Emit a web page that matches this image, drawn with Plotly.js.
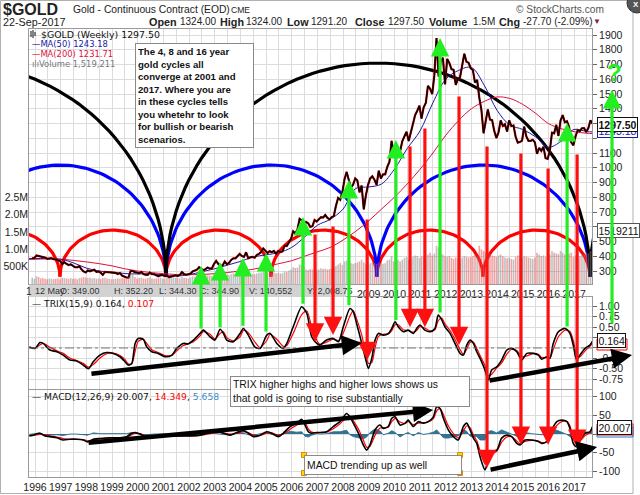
<!DOCTYPE html>
<html><head><meta charset="utf-8">
<script src="https://cdn.plot.ly/plotly-3.0.1.min.js"></script>
<style>body{margin:0;padding:0;background:#fff}#chart{width:640px;height:495px}</style>
</head><body><div id="chart"></div>
<script>
// ---------------- DATA ----------------
const startYear = 1995, startMonth = 11; // first monthly bar: Nov 1995
const closes = [
387,388,
405,402,396,393,391,383,386,387,380,379,372,369,
347,360,349,341,345,335,326,325,333,312,297,290,
304,298,301,309,294,297,289,274,294,293,294,288,
288,287,280,286,269,262,256,255,300,300,292,290,
285,294,279,275,274,290,278,278,274,265,271,273,
266,267,258,264,268,271,266,274,293,279,275,279,
282,297,302,309,326,318,305,313,324,317,318,348,
368,348,336,337,364,346,355,375,386,386,398,416,
402,396,427,387,394,396,391,409,416,428,453,438,
422,435,428,436,417,437,429,433,473,470,496,518,
569,556,582,654,643,614,633,624,599,604,646,636,
651,665,663,680,660,650,666,673,743,795,783,834,
923,972,917,865,885,928,914,833,880,718,814,884,
928,942,919,884,980,927,955,955,1007,1040,1182,1096,
1081,1117,1113,1180,1213,1244,1181,1247,1308,1357,1386,1421,
1333,1410,1439,1556,1536,1500,1628,1880,1620,1725,1746,1566,
1738,1711,1669,1664,1562,1604,1614,1687,1773,1719,1712,1675,
1663,1578,1596,1476,1393,1234,1313,1396,1327,1323,1250,1202,
1240,1321,1284,1296,1246,1322,1282,1287,1210,1171,1175,1184,
1279,1213,1183,1183,1190,1172,1095,1135,1115,1142,1065,1060,
1118,1238,1234,1291,1216,1321,1357,1309,1316,1277,1173,1152,
1212,1255,1249,1268,1269,1242,1269,1322,1297.5];
const volumesK = [
180,150,
220,200,160,170,150,140,160,150,140,150,160,130,
180,170,160,150,170,150,160,140,170,180,200,190,
170,180,160,170,150,160,140,170,180,160,150,140,
140,150,160,150,170,160,180,190,300,280,200,150,
170,180,160,150,170,190,160,150,160,170,180,150,
160,170,180,170,190,180,170,160,200,180,170,160,
190,220,210,230,260,240,220,230,250,240,230,270,
300,280,260,250,290,270,260,280,300,290,300,320,
330,320,340,310,300,290,280,300,320,330,360,340,
330,340,320,330,310,320,300,310,360,350,380,420,
480,460,470,560,540,480,420,400,430,420,450,400,
420,450,430,440,420,430,440,470,520,560,600,550,
650,680,640,600,580,600,620,650,700,620,580,550,
600,620,600,580,620,600,580,600,680,700,800,650,
680,700,650,700,750,780,700,720,780,820,800,750,
800,780,760,850,900,820,880,1100,1050,900,850,800,
780,800,750,720,760,740,700,760,800,780,760,780,
800,850,800,1100,1000,950,900,880,860,820,800,780,
820,850,800,760,740,760,720,700,780,820,800,760,
800,780,760,740,720,760,900,850,800,820,780,760,
850,950,900,880,860,950,900,850,800,880,900,780,
820,850,800,880,850,900,880,950,1100];
const maYears = [1995.77,1996.5,1997,1997.5,1998,1998.5,1999,1999.5,2000,2000.5,2001,2001.5,2002,2002.5,2003,2003.5,2004,2004.5,2005,2005.5,2006,2006.5,2007,2007.5,2008,2008.5,2009,2009.5,2010,2010.5,2011,2011.5,2012,2012.5,2013,2013.5,2014,2014.5,2015,2015.5,2016,2016.5,2017,2017.5,2017.72];
const ma50 = [385,385,380,355,320,300,293,283,280,282,273,266,275,295,315,340,365,395,410,425,460,530,610,650,720,860,870,890,990,1130,1250,1440,1600,1660,1680,1560,1390,1290,1260,1210,1140,1180,1260,1245,1243.18];
const ma200 = [378,382,380,372,362,350,335,315,300,290,282,276,275,276,282,290,300,312,330,350,370,400,430,460,510,570,640,720,800,890,990,1100,1220,1320,1400,1450,1480,1470,1430,1370,1300,1265,1245,1234,1231.71];
const trixYears = [1995.78,1996.00,1996.19,1996.32,1996.58,1996.85,1997.10,1997.36,1997.62,1997.88,
1998.08,1998.27,1998.53,1998.79,1999.05,1999.31,1999.51,1999.63,1999.77,1999.90,
2000.02,2000.22,2000.35,2000.55,2000.80,2001.06,2001.33,2001.52,2001.78,2001.97,
2002.17,2002.43,2002.56,2002.82,2003.01,2003.21,2003.34,2003.47,2003.73,2003.99,
2004.12,2004.31,2004.57,2004.77,2005.03,2005.16,2005.42,2005.67,2005.81,2006.06,
2006.39,2006.59,2006.78,2006.98,2007.10,2007.36,2007.62,2007.82,2008.01,2008.27,
2008.40,2008.53,2008.73,2008.86,2008.99,2009.12,2009.25,2009.38,2009.57,2009.77,
2009.90,2010.03,2010.15,2010.35,2010.54,2010.74,2010.87,2011.00,2011.19,2011.39,
2011.58,2011.71,2011.85,2011.97,2012.17,2012.36,2012.56,2012.69,2012.82,2012.95,
2013.08,2013.21,2013.34,2013.53,2013.66,2013.79,2013.99,2014.18,2014.38,2014.57,
2014.77,2014.96,2015.16,2015.41,2015.61,2015.74,2015.94,2016.06,2016.19,2016.39,
2016.65,2016.84,2016.97,2017.10,2017.23,2017.43,2017.62,2017.72];
const trixVals = [0.02,-0.01,0.13,0.11,-0.05,-0.09,-0.17,-0.29,-0.31,-0.41,
-0.50,-0.33,-0.17,-0.11,-0.13,-0.21,-0.33,-0.41,-0.37,0.11,
0.23,0.21,0.03,-0.09,-0.13,-0.21,-0.17,-0.01,0.11,0.10,
0.19,0.35,0.43,0.27,0.19,0.45,0.35,0.19,0.15,0.35,
0.47,0.31,0.02,-0.01,0.31,0.35,0.11,-0.01,0.11,0.51,
0.99,0.83,0.27,0.11,0.07,0.19,0.23,0.15,0.51,0.95,
0.87,0.59,0.11,-0.21,-0.49,-0.25,0.19,0.35,0.31,0.35,
0.47,0.63,0.51,0.39,0.43,0.35,0.47,0.55,0.43,0.39,
0.47,0.79,0.67,0.51,0.35,0.11,-0.13,-0.17,0.07,0.19,
0.11,-0.09,-0.25,-0.53,-0.77,-0.53,-0.45,-0.29,-0.05,-0.01,
-0.09,-0.29,-0.13,-0.13,-0.17,-0.27,-0.21,-0.25,0.11,0.39,
0.47,0.35,0.07,-0.29,-0.17,-0.01,0.07,0.164];
const trixSignal = [0.03,0.00,0.07,0.11,0.02,-0.07,-0.13,-0.24,-0.30,-0.37,
-0.46,-0.40,-0.24,-0.14,-0.12,-0.18,-0.28,-0.38,-0.38,-0.08,
0.16,0.21,0.11,-0.04,-0.11,-0.18,-0.18,-0.07,0.06,0.10,
0.15,0.29,0.39,0.33,0.22,0.35,0.39,0.25,0.17,0.27,
0.42,0.37,0.14,0.01,0.18,0.33,0.21,0.04,0.06,0.35,
0.80,0.89,0.50,0.18,0.09,0.14,0.21,0.18,0.36,0.77,
0.90,0.70,0.31,-0.07,-0.37,-0.35,0.01,0.28,0.33,0.34,
0.42,0.56,0.56,0.44,0.42,0.38,0.42,0.51,0.48,0.41,
0.44,0.66,0.72,0.58,0.42,0.21,-0.04,-0.15,-0.03,0.14,
0.14,-0.01,-0.18,-0.42,-0.67,-0.63,-0.48,-0.36,-0.15,-0.03,
-0.06,-0.21,-0.19,-0.13,-0.15,-0.23,-0.23,-0.24,-0.04,0.27,
0.43,0.40,0.18,-0.15,-0.21,-0.07,0.04,0.107];
const macdYears = [1995.78,1995.93,1996.19,1996.39,1996.58,1996.85,1997.10,1997.36,1997.62,1997.88,
1998.04,1998.27,1998.53,1998.92,1999.31,1999.57,1999.77,1999.90,2000.09,2000.29,
2000.61,2001.13,2001.65,2002.04,2002.43,2002.82,2003.21,2003.60,2003.86,2004.12,
2004.31,2004.51,2004.77,2005.03,2005.22,2005.48,2005.67,2005.94,2006.20,2006.39,
2006.52,2006.65,2006.78,2006.98,2007.10,
2007.36,2007.62,2007.88,2008.14,2008.27,2008.40,2008.60,2008.79,2008.92,2009.05,
2009.25,2009.44,2009.57,2009.76,2009.90,2010.03,2010.22,2010.42,2010.54,2010.74,
2010.93,2011.13,2011.32,2011.52,2011.65,2011.78,2011.91,2012.10,2012.30,2012.49,
2012.69,2012.82,2012.95,2013.08,2013.21,2013.34,2013.53,2013.66,2013.79,2013.99,
2014.18,2014.38,2014.57,2014.77,2014.90,2015.09,2015.35,2015.61,2015.74,2015.94,
2016.13,2016.33,2016.52,2016.72,2016.84,2016.97,2017.10,2017.23,2017.43,2017.62,2017.72];
const macdVals = [-5,-3,2,-5,-7,-10,-16,-14,-14,-16,
-21,-14,-12,-10,-10,-7,2,4,0,-7,
-5,-5,-5,-5,-3,4,5,-3,4,9,
2,-7,-3,6,2,-7,2,20,29,39,
24,6,2,4,4,
6,20,33,55,46,29,2,-29,-43,-29,
11,24,15,20,42,46,24,29,37,20,
33,29,33,46,73,68,42,11,-7,-16,
20,29,11,-11,-25,-61,-96,-69,-47,-43,
-11,-3,-7,-25,-29,-16,-16,-20,-25,-20,
11,33,37,33,15,-25,-34,-16,2,6,20.007];
const macdSignal = [-4,-4,-1,-2,-5,-8,-12,-14,-14,-15,
-18,-17,-13,-11,-10,-8,-2,2,1,-4,
-5,-5,-5,-5,-4,1,4,0,2,6,
4,-3,-4,2,3,-3,0,13,24,33,
30,14,5,3,4,
5,14,27,45,48,36,13,-16,-35,-33,
-3,16,17,18,33,42,32,28,33,25,
29,30,32,41,62,68,52,22,1,-11,
8,22,17,-3,-18,-45,-80,-76,-56,-46,
-22,-8,-7,-19,-26,-20,-17,-19,-23,-21,
1,23,33,34,22,-10,-28,-20,-4,3,14.349];
const macdHist = [-1,1,3,-3,-2,-2,-4,0,0,-1,
-3,3,1,1,0,1,4,2,-1,-3,
0,0,0,0,1,3,1,-3,2,3,
-2,-4,1,4,-1,-4,2,7,5,6,
-6,-8,-3,1,0,
1,6,6,10,-2,-7,-11,-13,-8,4,
14,8,-2,2,9,4,-8,1,4,-5,
4,-1,1,5,11,0,-10,-11,-8,-5,
12,7,-6,-8,-7,-16,-16,7,9,3,
11,5,0,-6,-3,4,1,-1,-2,1,
10,10,4,-1,-7,-15,-6,4,6,3,5.66];
const yearLabels = [1996,1997,1998,1999,2000,2001,2002,2003,2004,2005,2006,2007,2008,2009,2010,2011,2012,2013,2014,2015,2016,2017];
const priceTicks = [300,400,500,600,700,800,900,1000,1100,1200,1300,1400,1500,1600,1700,1800,1900];
const priceTickText = ['300','400','500','','700','800','900','1000','1100','','','1400','1500','1600','1700','1800','1900'];
const volTicks = [500000,1000000,1500000,2000000,2500000];
const volTickText = ['500K','1.0M','1.5M','2.0M','2.5M'];
const trixTicks = [-0.75,-0.5,-0.25,0,0.25,0.5,0.75,1.0];
const trixTickText = ['-0.75','-0.50','-0.25','','','0.50','0.75','1.00'];
const macdTicks = [-100,-50,0,50,100];
const macdTickText = ['-100','-50','','50','100'];
// cycle lows (decimal years) where the hand-drawn cycle arcs touch down
const cycle4 = [1992.84,1996.97,2001.10,2005.19,2009.32,2013.45,2017.62,2021.75];
const cycle8 = [1992.88,2001.10,2009.32,2017.62,2025.9];
const cycle16 = [1984.6,2001.10,2017.62,2034.1];
const arcBase = 262, arc4Top = 578, arc8Top = 1019, arc16Top = 1710;
// hand-drawn signal arrows: [year, price at head/tail, indicator value at tail/head]
const greenArrows = [[2002.47,334,0.43],[2003.21,361,0.46],[2004.10,388,0.50],[2005.00,422,0.36],[2006.44,666,1.03],[2008.23,917,0.99],[2010.06,1188,0.63],[2011.78,1880,0.82],[2016.73,1303,0.48]];
const redArrowsTrix = [[2006.91,558,0.15],[2007.61,612,0.31],[2008.94,659,-0.29],[2010.61,1154,0.50],[2011.19,1276,0.50],[2012.52,1493,0.07]];
const redArrowsMacd = [[2013.61,1154,-91],[2014.93,1107,-29],[2015.99,1005,-29],[2017.12,1100,-37]];

// ---------------- GEOMETRY (pixels of the 640x495 picture) ----------------
const W = 640, H = 495;
const XL = 29, XR = 592, X0 = 1995.766, X1 = 2017.70;
const P = {top: 29, bot: 284, r0: 212, r1: 1941};
const T = {top: 297, bot: 389, r0: -0.986, r1: 1.226};
const M = {top: 390, bot: 477, r0: -115, r1: 117.7};
const VOLMAX = 7.33e6;
const dom = p => [(H - p.bot) / H, (H - p.top) / H];
const pxX = yr => XL + (yr - X0) / (X1 - X0) * (XR - XL);
const pxY = (p, v) => p.bot - (v - p.r0) / (p.r1 - p.r0) * (p.bot - p.top);

// ---------------- TRACES ----------------
const mX = closes.map((_, i) => startYear + (startMonth - 0.3 + i) / 12);
const volColors = closes.map((c, i) => (i > 0 && c < closes[i - 1]) ? 'rgba(225,90,90,0.55)' : 'rgba(130,130,130,0.5)');
const traces = [];
traces.push({x: mX, y: volumesK.map(v => v * 1000), type: 'bar', xaxis: 'x', yaxis: 'y2', marker: {color: volColors, line: {width: 0}}, hoverinfo: 'skip'});
function arc(a, b, top, color) {
  const c = (a + b) / 2, r = (b - a) / 2, xs = [], ys = [];
  for (let k = 0; k <= 80; k++) { const t = Math.PI * k / 80; xs.push(c - r * Math.cos(t)); ys.push(arcBase + (top - arcBase) * Math.sin(t)); }
  return {x: xs, y: ys, type: 'scatter', mode: 'lines', xaxis: 'x', yaxis: 'y', line: {color: color, width: 3.2}, hoverinfo: 'skip'};
}
for (let i = 0; i < cycle4.length - 1; i++) traces.push(arc(cycle4[i], cycle4[i + 1], arc4Top, '#ff0000'));
for (let i = 0; i < cycle8.length - 1; i++) traces.push(arc(cycle8[i], cycle8[i + 1], arc8Top, '#0000ff'));
for (let i = 0; i < cycle16.length - 1; i++) traces.push(arc(cycle16[i], cycle16[i + 1], arc16Top, '#000000'));
traces.push({x: maYears, y: ma200, type: 'scatter', mode: 'lines', xaxis: 'x', yaxis: 'y', line: {color: '#e0103a', width: 1, shape: 'spline'}, hoverinfo: 'skip'});
traces.push({x: maYears, y: ma50, type: 'scatter', mode: 'lines', xaxis: 'x', yaxis: 'y', line: {color: '#1a1aa8', width: 1, shape: 'spline'}, hoverinfo: 'skip'});
traces.push({x: mX, y: closes, type: 'scatter', mode: 'lines', xaxis: 'x', yaxis: 'y', line: {color: '#d00000', width: 2.2}, hoverinfo: 'skip'});
traces.push({x: mX, y: closes, type: 'scatter', mode: 'lines', xaxis: 'x', yaxis: 'y', line: {color: '#000000', width: 1.4}, hoverinfo: 'skip'});
// TRIX
traces.push({x: trixYears, y: trixSignal, type: 'scatter', mode: 'lines', xaxis: 'x2', yaxis: 'y3', line: {color: '#ff0000', width: 1.2, shape: 'spline', smoothing: 0.7}, hoverinfo: 'skip'});
traces.push({x: trixYears, y: trixVals, type: 'scatter', mode: 'lines', xaxis: 'x2', yaxis: 'y3', line: {color: '#000000', width: 1.6, shape: 'spline', smoothing: 0.7}, hoverinfo: 'skip'});
// MACD
traces.push({x: macdYears, y: macdHist, type: 'scatter', mode: 'lines', fill: 'tozeroy', fillcolor: 'rgba(30,100,135,0.9)', xaxis: 'x3', yaxis: 'y4', line: {color: '#1e6487', width: 0.8}, hoverinfo: 'skip'});
traces.push({x: macdYears, y: macdSignal, type: 'scatter', mode: 'lines', xaxis: 'x3', yaxis: 'y4', line: {color: '#ff0000', width: 1.2, shape: 'spline', smoothing: 0.7}, hoverinfo: 'skip'});
traces.push({x: macdYears, y: macdVals, type: 'scatter', mode: 'lines', xaxis: 'x3', yaxis: 'y4', line: {color: '#000000', width: 1.6, shape: 'spline', smoothing: 0.7}, hoverinfo: 'skip'});

// ---------------- AXES ----------------
// gridlines every half year; year labels on the whole years
const gridVals = [], gridText = [], gridTextTop = [];
for (let y = 1996; y <= 2017.5; y += 0.5) {
  gridVals.push(y);
  const lab = (Number.isInteger(y) && yearLabels.includes(y)) ? String(y) : '';
  gridText.push(lab);
  gridTextTop.push(y >= 2009 ? lab : ''); // earlier labels sit under the hover strip
}
const AF = 'Liberation Sans, Arial, sans-serif';
const xBase = {range: [X0, X1], domain: [XL / W, XR / W], tickvals: gridVals, ticktext: gridText, showgrid: true, gridcolor: '#dcdcdc', gridwidth: 1, zeroline: false, showline: true, linecolor: '#9a9a9a', mirror: true, ticks: '', tickfont: {family: AF, size: 10.5, color: '#222'}, fixedrange: true};
const yBase = {side: 'right', showgrid: true, gridcolor: '#dcdcdc', zeroline: false, showline: true, linecolor: '#9a9a9a', mirror: true, ticks: 'outside', ticklen: 4, tickcolor: '#666', tickfont: {family: AF, size: 10.5, color: '#222'}, fixedrange: true};
const layout = {
  width: W, height: H, margin: {l: 0, r: 0, t: 0, b: 0}, paper_bgcolor: '#fff', plot_bgcolor: '#fff', showlegend: false, bargap: 0.25,
  xaxis: Object.assign({}, xBase, {anchor: 'y', showticklabels: true, ticktext: gridTextTop}),
  xaxis2: Object.assign({}, xBase, {anchor: 'y3', matches: 'x', showticklabels: false}),
  xaxis3: Object.assign({}, xBase, {anchor: 'y4', matches: 'x', showticklabels: true}),
  yaxis: Object.assign({}, yBase, {domain: dom(P), range: [P.r0, P.r1], tickvals: priceTicks, ticktext: priceTickText, anchor: 'x'}),
  yaxis2: {overlaying: 'y', side: 'left', range: [0, VOLMAX], tickvals: volTicks, ticktext: volTickText, showgrid: false, zeroline: false, showline: false, ticks: '', tickfont: {family: AF, size: 10.5, color: '#222'}, anchor: 'x', fixedrange: true},
  yaxis3: Object.assign({}, yBase, {domain: dom(T), range: [T.r0, T.r1], tickvals: trixTicks, ticktext: trixTickText, anchor: 'x2'}),
  yaxis4: Object.assign({}, yBase, {domain: dom(M), range: [M.r0, M.r1], tickvals: macdTicks, ticktext: macdTickText, anchor: 'x3'}),
  shapes: [], annotations: []
};
const S = layout.shapes, A = layout.annotations;
const fx = px => px / W, fy = py => 1 - py / H;
// TRIX zero line
S.push({type: 'line', xref: 'x2', yref: 'y3', x0: X0, x1: X1, y0: 0, y1: 0, line: {color: '#777', width: 1, dash: 'dashdot'}});
// hover strip over the lower axis of the price panel
S.push({type: 'rect', xref: 'paper', yref: 'paper', x0: fx(29), x1: fx(346), y0: fy(297), y1: fy(284.5), fillcolor: '#d2d2d2', line: {width: 0}, layer: 'above'});
// outer frame
S.push({type: 'rect', xref: 'paper', yref: 'paper', x0: fx(0.5), x1: fx(633), y0: fy(493.5), y1: fy(0.5), line: {color: '#b0b0b0', width: 1}});
// close button
S.push({type: 'circle', xref: 'paper', yref: 'paper', x0: fx(627), x1: fx(647), y0: fy(13), y1: fy(-7), fillcolor: '#555', line: {color: '#333', width: 1}});
// small bar icon before the price legend
[[31, 31, 37], [33, 30, 38], [35, 32, 36]].forEach(b => S.push({type: 'line', xref: 'paper', yref: 'paper', x0: fx(b[0]), x1: fx(b[0]), y0: fy(b[2]), y1: fy(b[1]), line: {color: '#333', width: 1.2}}));
// signal-line tags hidden behind the value tags (only their borders show)
S.push({type: 'rect', xref: 'paper', yref: 'paper', x0: fx(597), x1: fx(627), y0: fy(350), y1: fy(339), fillcolor: '#fff', line: {color: '#ff0000', width: 1}, layer: 'above'});
S.push({type: 'rect', xref: 'paper', yref: 'paper', x0: fx(597), x1: fx(633), y0: fy(435), y1: fy(424), fillcolor: '#fff', line: {color: '#ff0000', width: 1}, layer: 'above'});
S.push({type: 'rect', xref: 'paper', yref: 'paper', x0: fx(597), x1: fx(633), y0: fy(437), y1: fy(427), fillcolor: 'rgba(0,0,0,0)', line: {color: '#3a6fc8', width: 1}, layer: 'above'});

function txt(x, y, text, size, color, family) {
  A.push({xref: 'paper', yref: 'paper', x: fx(x), y: fy(y), text: text, showarrow: false, xanchor: 'left', yanchor: 'middle', font: {family: family || AF, size: size, color: color || '#111'}});
}
// header
txt(1, 9, '<b>$GOLD</b>', 16, '#222');
txt(71, 9, 'Gold - Continuous Contract (EOD)', 10.3, '#222');
txt(229, 10, 'CME', 8.6, '#222');
txt(1, 22, '22-Sep-2017', 10.8, '#222');
[[147, '<b>Open</b>', 10.8], [178, '1324.00', 10], [218, '<b>High</b>', 10.8], [244, '1324.00', 10], [285, '<b>Low</b>', 10.8], [309, '1291.20', 10],
 [353, '<b>Close</b>', 10.8], [386, '1297.50', 10], [427, '<b>Volume</b>', 10.8], [471, '1.5M', 10], [497, '<b>Chg</b>', 10.8], [521, '-27.70 (-2.09%)', 10]]
  .forEach(h => txt(h[0], 22, h[1], h[2], '#222'));
txt(591, 21, '▼', 8, '#8b1a2b');
txt(514, 9, '© StockCharts.com', 10.2, '#555');
txt(631, 4, '<b>X</b>', 8, '#fff');
// panel legends
const LF = 'DejaVu Sans, Verdana, sans-serif';
txt(39, 34, '$GOLD (Weekly) 1297.50', 9.4, '#111', LF);
txt(30, 44, '—MA(50) 1243.18', 8.4, '#1a1aa8', LF);
txt(30, 54, '—MA(200) 1231.71', 8.4, '#e0103a', LF);
txt(30, 64, 'ılıVolume 1,519,211', 8.4, '#777', LF);
txt(30, 303, '— TRIX(15,9) 0.164, <span style="color:#ff0000">0.107</span>', 9.2, '#111', LF);
txt(30, 396, '— MACD(12,26,9) 20.007, <span style="color:#ff0000">14.349</span>, <span style="color:#3a8fc8">5.658</span>', 9.2, '#111', LF);
// hover strip text
txt(24, 291, '1', 10, '#222');
const hs = [[33, '12 May'], [58, 'O: 349.00'], [112, 'H: 352.20'], [157, 'L: 344.30'], [198, 'C: 344.90'], [247, 'V: 140,552'], [305, 'Y: 2,008.75']];
hs.forEach(h => txt(h[0], 291, h[1], 9, '#333'));
// value tags on the right axis
function tag(y, text, border, color) {
  A.push({xref: 'paper', yref: 'paper', x: fx(597), y: fy(y), text: text, showarrow: false, xanchor: 'left', yanchor: 'middle', font: {family: AF, size: 10.5, color: color || '#111'}, bgcolor: '#fff', bordercolor: border, borderwidth: 1, borderpad: 0.5});
}
tag(131, '1243.18', '#1a1aa8', '#1a1aa8');
tag(124, '<b>1297.50</b>', '#111');
tag(230, '1519211', '#555');
tag(340, '0.164', '#111');
tag(427, '20.007', '#111');

// arrows
function arrow(tipX, tipY, tailX, tailY, color, width, size) {
  A.push({xref: 'paper', yref: 'paper', x: fx(tipX), y: fy(tipY), ax: tailX - tipX, ay: tailY - tipY, axref: 'pixel', ayref: 'pixel', text: '', showarrow: true, arrowhead: 2, arrowsize: size, arrowwidth: width, arrowcolor: color, standoff: 0});
}
greenArrows.forEach(g => { const x = pxX(g[0]); arrow(x, pxY(P, g[1]), x, pxY(T, g[2]), '#22ee22', 3.2, 1.15); });
redArrowsTrix.forEach(r => { const x = pxX(r[0]); arrow(x, pxY(T, r[2]), x, pxY(P, r[1]), '#ff1010', 3.2, 1.15); });
redArrowsMacd.forEach(r => { const x = pxX(r[0]); arrow(x, pxY(M, r[2]), x, pxY(P, r[1]), '#ff1010', 3.2, 1.15); });
// the "?" arrow beyond the last bar
arrow(pxX(2018.48), pxY(P, 1527), pxX(2018.48), pxY(T, 0.55), '#22ee22', 3.2, 1.15);
txt(pxX(2018.48) - 7, 72, '<b>?</b>', 24, '#22ee22');
// trend arrows
const trend = [[T, 1998.14, -0.625, 2008.74, 0.12], [T, 2013.65, -0.79, 2019.26, -0.17], [M, 1998.03, -24, 2011.51, 64], [M, 2013.69, -96, 2017.90, -35]];
trend.forEach(t => arrow(pxX(t[3]), pxY(t[0], t[4]), pxX(t[1]), pxY(t[0], t[2]), '#000', 4.5, 0.9));
// note boxes
function box(x, y, w, h, text, size) {
  A.push({xref: 'paper', yref: 'paper', x: fx(x), y: fy(y), xanchor: 'left', yanchor: 'top', width: w, height: h, text: text, showarrow: false, align: 'left', valign: 'middle', bgcolor: '#fff', bordercolor: '#8a8a8a', borderwidth: 1, borderpad: 2, font: {family: AF, size: size, color: '#111'}});
}
box(135, 43, 113, 99, '<b>The 4, 8 and 16 year<br>gold cycles all<br>converge at 2001 and<br>2017. Where you are<br>in these cycles tells<br>you whetehr to look<br>for bullish or bearish<br>scenarios.</b>', 9.6);
box(230, 376, 234, 25, 'TRIX higher highs and higher lows shows us<br>that gold is going to rise substantially', 10.4);
box(304, 455, 152, 14, 'MACD trending up as well', 10.4);
[[304, 455], [460, 455], [304, 473], [460, 473]].forEach(c => S.push({type: 'rect', xref: 'paper', yref: 'paper', x0: fx(c[0] - 2.5), x1: fx(c[0] + 2.5), y0: fy(c[1] + 2.5), y1: fy(c[1] - 2.5), fillcolor: '#ffd400', line: {color: '#e08a00', width: 1}, layer: 'above'}));

Plotly.newPlot('chart', traces, layout, {staticPlot: true});
</script></body></html>
